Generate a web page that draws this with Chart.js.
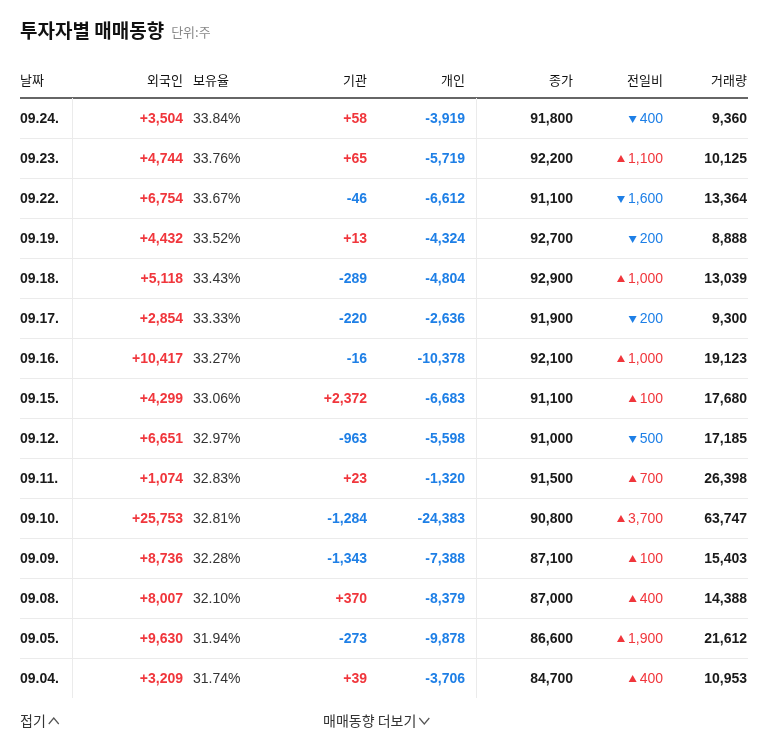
<!DOCTYPE html>
<html><head><meta charset="utf-8">
<script src="https://cdn.jsdelivr.net/npm/chart.js@4"></script>
<style>html,body{margin:0;padding:0;background:#fff}#wrap{width:768px;height:749px}</style>
</head><body><div id="wrap"><canvas id="c"></canvas></div>
<script>
const dates=["09.24.","09.23.","09.22.","09.19.","09.18.","09.17.","09.16.","09.15.","09.12.","09.11.","09.10.","09.09.","09.08.","09.05.","09.04."];
const foreign=[3504,4744,6754,4432,5118,2854,10417,4299,6651,1074,25753,8736,8007,9630,3209];
const holdRatio=[33.84,33.76,33.67,33.52,33.43,33.33,33.27,33.06,32.97,32.83,32.81,32.28,32.10,31.94,31.74];
const inst=[58,65,-46,13,-289,-220,-16,2372,-963,23,-1284,-1343,370,-273,39];
const indiv=[-3919,-5719,-6612,-4324,-4804,-2636,-10378,-6683,-5598,-1320,-24383,-7388,-8379,-9878,-3706];
const close=[91800,92200,91100,92700,92900,91900,92100,91100,91000,91500,90800,87100,87000,86600,84700];
const change=[-400,1100,-1600,-200,1000,-200,1000,100,-500,700,3700,100,400,1900,400];
const volume=[9360,10125,13364,8888,13039,9300,19123,17680,17185,26398,63747,15403,14388,21612,10953];
const headers=["날짜","외국인","보유율","기관","개인","종가","전일비","거래량"];
const title="투자자별 매매동향", unit="단위:주";
const footL="접기", footC="매매동향 더보기";

const RED="#f0363c", BLUE="#1e7fe6", DARK="#1a1a1a";
const F='"Liberation Sans","Noto Sans CJK KR",sans-serif';
const KF='"Noto Sans CJK KR","Liberation Sans",sans-serif';
// column anchors on x scale (value, align)
const cols=[[20,"left"],[183,"right"],[193,"left"],[367,"right"],[465,"right"],[573,"right"],[663,"right"],[747,"right"]];
const fmt=n=>Math.abs(n).toLocaleString("en-US");
const sgn=n=>(n>0?"+":n<0?"-":"")+fmt(n);
const col=n=>n>0?RED:n<0?BLUE:DARK;

const tablePlugin={id:"table",afterDraw(chart){
  const ctx=chart.ctx,xs=chart.scales.x,ys=chart.scales.y;
  const X=i=>xs.getPixelForValue(cols[i][0]);
  ctx.save();ctx.textBaseline="middle";
  // title
  ctx.fillStyle="#111";ctx.font="bold 19px "+KF;ctx.textAlign="left";
  ctx.fillText(title,20,31);
  const tw=ctx.measureText(title).width;
  ctx.fillStyle="#888";ctx.font="13px "+KF;ctx.fillText(unit,20+tw+7,32);
  // header
  ctx.font="13px "+KF;ctx.fillStyle="#111";
  headers.forEach((h,i)=>{ctx.textAlign=cols[i][1];ctx.fillText(h,X(i),80);});
  ctx.strokeStyle="#333";ctx.lineWidth=1.5;ctx.beginPath();ctx.moveTo(20,98);ctx.lineTo(748,98);ctx.stroke();
  // separators
  ctx.strokeStyle="#ebebeb";ctx.lineWidth=1;
  const top=ys.getPixelForValue(0)-20,bot=ys.getPixelForValue(dates.length-1)+20;
  for(let r=0;r<dates.length-1;r++){const y=Math.round(ys.getPixelForValue(r)+20)+0.5;ctx.beginPath();ctx.moveTo(20,y);ctx.lineTo(748,y);ctx.stroke();}
  [72,476].forEach(x=>{ctx.beginPath();ctx.moveTo(x+0.5,top);ctx.lineTo(x+0.5,bot);ctx.stroke();});
  // rows
  dates.forEach((d,r)=>{
    const y=ys.getPixelForValue(r)+1;
    ctx.font="bold 14px "+F;
    ctx.textAlign="left";ctx.fillStyle=DARK;ctx.fillText(d,X(0),y);
    ctx.textAlign="right";ctx.fillStyle=col(foreign[r]);ctx.fillText(sgn(foreign[r]),X(1),y);
    ctx.font="14px "+F;ctx.textAlign="left";ctx.fillStyle="#333";ctx.fillText(holdRatio[r].toFixed(2)+"%",X(2),y);
    ctx.font="bold 14px "+F;ctx.textAlign="right";
    ctx.fillStyle=col(inst[r]);ctx.fillText(sgn(inst[r]),X(3),y);
    ctx.fillStyle=col(indiv[r]);ctx.fillText(sgn(indiv[r]),X(4),y);
    ctx.fillStyle=DARK;ctx.fillText(fmt(close[r]),X(5),y);
    ctx.fillText(fmt(volume[r]),X(7),y);
    ctx.font="14px "+F;ctx.fillStyle=col(change[r]);
    const t=fmt(change[r]);ctx.fillText(t,X(6),y);
    const w=ctx.measureText(t).width,cx=X(6)-w-7;
    ctx.beginPath();
    if(change[r]>0){ctx.moveTo(cx-4,y+3);ctx.lineTo(cx+4,y+3);ctx.lineTo(cx,y-4);}
    else{ctx.moveTo(cx-4,y-3);ctx.lineTo(cx+4,y-3);ctx.lineTo(cx,y+4);}
    ctx.closePath();ctx.fill();
  });
  // footer
  ctx.font="14px "+KF;ctx.fillStyle="#333";ctx.textAlign="left";
  ctx.fillText(footL,20,721);
  let fw=ctx.measureText(footL).width;
  const chev=(x)=>{ctx.strokeStyle="#555";ctx.lineWidth=1.2;ctx.beginPath();};
  chev();ctx.moveTo(20+fw+3,724);ctx.lineTo(20+fw+8,718);ctx.lineTo(20+fw+13,724);ctx.stroke();
  ctx.fillText(footC,323,721);fw=ctx.measureText(footC).width;
  chev();ctx.moveTo(323+fw+3,718);ctx.lineTo(323+fw+8,724);ctx.lineTo(323+fw+13,718);ctx.stroke();
  ctx.restore();
}};

new Chart(document.getElementById("c"),{
  type:"scatter",
  data:{labels:dates,datasets:[{data:[],pointRadius:0}]},
  options:{responsive:true,maintainAspectRatio:false,animation:false,
    layout:{padding:{top:98,bottom:51,left:0,right:0}},
    plugins:{legend:{display:false},tooltip:{enabled:false}},
    scales:{
      x:{type:"linear",min:0,max:768,display:false},
      y:{type:"category",labels:dates,offset:true,display:false}
    }},
  plugins:[tablePlugin]
});
</script></body></html>
